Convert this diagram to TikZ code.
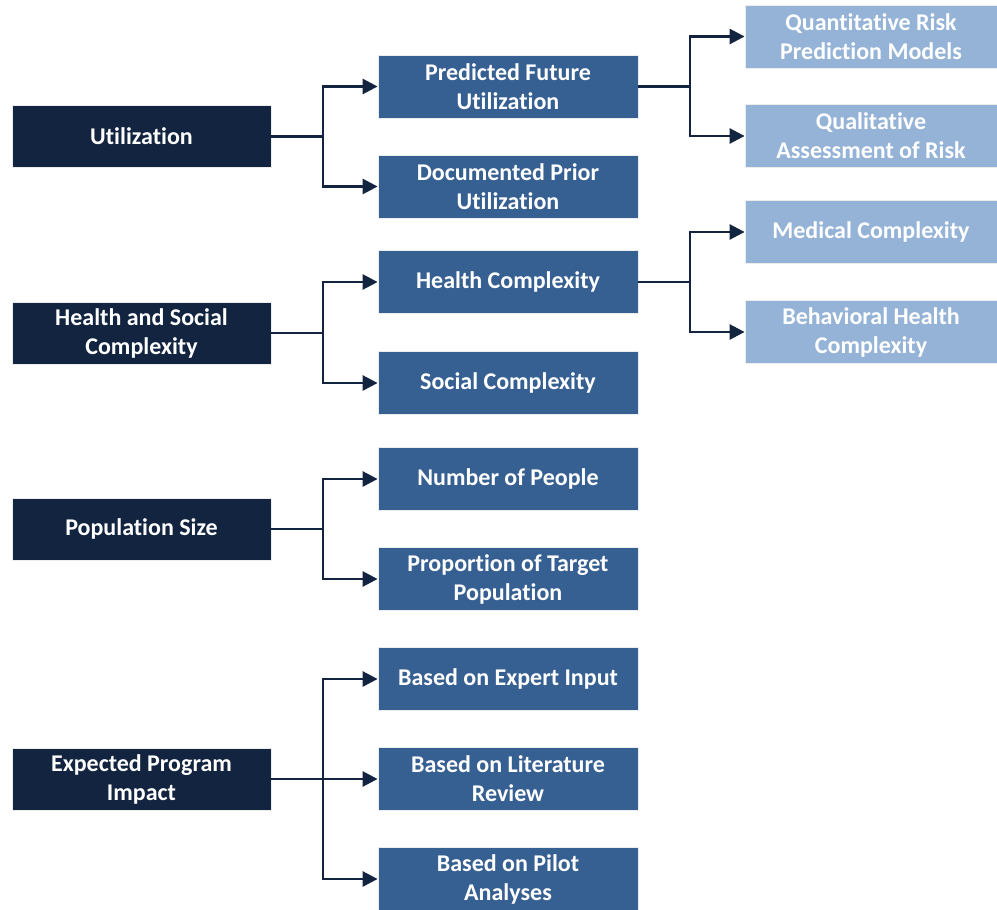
\documentclass[tikz,border=0pt]{standalone}
\usepackage{fontspec}
\setmainfont{Carlito}[Ligatures={NoCommon}]
\usetikzlibrary{arrows.meta}
\definecolor{navy}{HTML}{12243F}
\definecolor{midblue}{HTML}{376092}
\definecolor{lightblue}{HTML}{95B3D7}
\tikzset{
  basebox/.style={draw=white!85!gray, line width=0.8pt, text=white, align=center,
    font=\fontsize{24}{29}\selectfont\bfseries, inner sep=0pt},
  lbox/.style={basebox, fill=navy, minimum width=259pt, minimum height=62pt},
  mbox/.style={basebox, fill=midblue, minimum width=260pt, minimum height=63pt},
  rbox/.style={basebox, fill=lightblue, minimum width=252pt, minimum height=63pt},
  conn/.style={draw=navy, line width=2.7pt, -{Triangle[length=15pt,width=15pt]}},
  trunk/.style={draw=navy, line width=2.7pt}
}
\begin{document}
\begin{tikzpicture}[x=1pt,y=-1pt]
\useasboundingbox (0,0) rectangle (997,910);
% left column
\node[lbox] (util) at (141.5,136.5) {Utilization};
\node[lbox] (hsc) at (141.5,333) {Health and Social\\Complexity};
\node[lbox] (pop) at (141.5,529) {Population Size};
\node[lbox] (epi) at (141.5,779) {Expected Program\\Impact};
% middle column
\node[mbox] (pfu) at (508,86.5) {Predicted Future\\Utilization};
\node[mbox] (dpu) at (508,186.5) {Documented Prior\\Utilization};
\node[mbox] (hc) at (508,282) {Health Complexity};
\node[mbox] (sc) at (508,383) {Social Complexity};
\node[mbox] (nop) at (508,479) {Number of People};
\node[mbox] (ptp) at (508,579) {Proportion of Target\\Population};
\node[mbox] (exp) at (508,679) {Based on Expert Input};
\node[mbox] (lit) at (508,779) {Based on Literature\\Review};
\node[mbox] (pil) at (508,879) {Based on Pilot\\Analyses};
% right column
\node[rbox] (qrp) at (871,36.5) {Quantitative Risk\\Prediction Models};
\node[rbox] (qar) at (871,136) {Qualitative\\Assessment of Risk};
\node[rbox] (med) at (871,232) {Medical Complexity};
\node[rbox] (beh) at (871,332) {Behavioral Health\\Complexity};
% junction coordinates
\coordinate (j1) at (323,136.5);
\coordinate (j2) at (323,333);
\coordinate (j3) at (323,529);
\coordinate (j4) at (323,779);
\coordinate (k1) at (690,86.5);
\coordinate (k2) at (690,282);
% connectors
\draw[trunk] (util.east) -- (j1);
\draw[conn] (j1) |- (pfu.west);
\draw[conn] (j1) |- (dpu.west);
\draw[trunk] (hsc.east) -- (j2);
\draw[conn] (j2) |- (hc.west);
\draw[conn] (j2) |- (sc.west);
\draw[trunk] (pop.east) -- (j3);
\draw[conn] (j3) |- (nop.west);
\draw[conn] (j3) |- (ptp.west);
\draw[trunk] (epi.east) -- (j4);
\draw[conn] (j4) |- (exp.west);
\draw[conn] (j4) -- (lit.west);
\draw[conn] (j4) |- (pil.west);
\draw[trunk] (pfu.east) -- (k1);
\draw[conn] (k1) |- (qrp.west);
\draw[conn] (k1) |- (qar.west);
\draw[trunk] (hc.east) -- (k2);
\draw[conn] (k2) |- (med.west);
\draw[conn] (k2) |- (beh.west);
\end{tikzpicture}
\end{document}
